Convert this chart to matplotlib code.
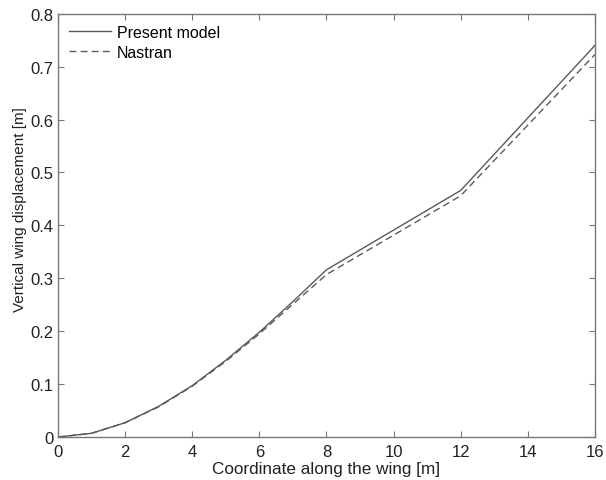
import matplotlib
matplotlib.use("Agg")
import matplotlib.pyplot as plt

# wing deflection along the span
x_pos = [0, 1, 2, 3, 4, 5, 6, 7, 8, 12, 16]
present_model = [0.0, 0.007, 0.027, 0.058, 0.097, 0.145, 0.198, 0.256, 0.316, 0.466, 0.740]
nastran = [0.0, 0.007, 0.027, 0.057, 0.096, 0.143, 0.195, 0.251, 0.307, 0.456, 0.723]

x_ticks = [0, 2, 4, 6, 8, 10, 12, 14, 16]
y_ticks = [0, 0.1, 0.2, 0.3, 0.4, 0.5, 0.6, 0.7, 0.8]
y_ticklabels = ["0", "0.1", "0.2", "0.3", "0.4", "0.5", "0.6", "0.7", "0.8"]

plt.rcParams["font.family"] = ["Liberation Sans", "DejaVu Sans"]
plt.rcParams["font.size"] = 11

line_color = "#5a5a5a"
axis_color = "#777777"

fig = plt.figure(figsize=(6.06, 4.81), dpi=100)
ax = fig.add_axes([0.0957, 0.0894, 0.886, 0.880])

ax.plot(x_pos, present_model, color=line_color, lw=1.0, label="Present model")
ax.plot(x_pos, nastran, color=line_color, lw=1.0, ls=(0, (5, 3)), label="Nastran")

ax.set_xlim(0, 16)
ax.set_ylim(0, 0.8)
ax.set_xticks(x_ticks)
ax.set_yticks(y_ticks)
ax.set_yticklabels(y_ticklabels)
ax.tick_params(direction="in", top=True, right=True, length=4, width=0.8,
               color=axis_color, labelcolor="#222222", labelsize=12)
ax.tick_params(axis="x", pad=5)
for sp in ax.spines.values():
    sp.set_color(axis_color)
    sp.set_linewidth(1.0)

ax.set_xlabel("Coordinate along the wing [m]", fontsize=12.3, color="#222222", labelpad=1.5)
ax.set_ylabel("Vertical wing displacement [m]", fontsize=11, color="#222222")
ax.yaxis.set_label_coords(-0.058, 0.54)

ax.legend(loc="upper left", frameon=False, fontsize=11.5, handlelength=2.6,
          handletextpad=0.4, labelspacing=0.3, borderaxespad=0.3)

fig.savefig("out.png", dpi=100)
